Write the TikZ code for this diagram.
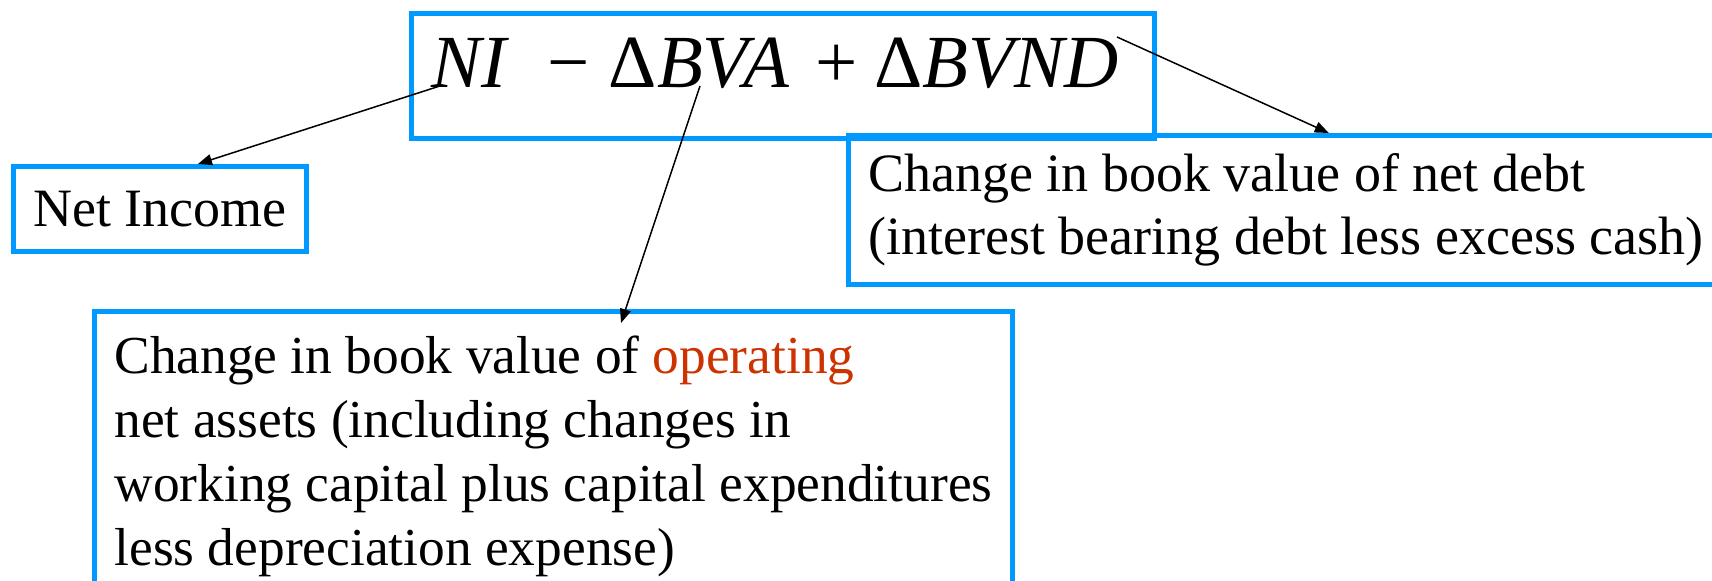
\documentclass[tikz,border=0pt]{standalone}
\usepackage{fontspec}
\setmainfont{Liberation Serif}
\usetikzlibrary{arrows.meta}
\definecolor{boxblue}{RGB}{0,153,255}
\definecolor{hilite}{RGB}{204,51,0}

\begin{document}
\begin{tikzpicture}[
  x=0.5pt, y=-0.5pt,
  box/.style={draw=boxblue, line width=2.5pt, align=left, anchor=north west,
              inner xsep=10pt, font=\fontsize{27}{31.5}\selectfont},
  arr/.style={-{Triangle[length=7pt,width=5.5pt]}, line width=0.75pt}
]
\useasboundingbox (0,0) rectangle (1712,581);
\node[box, minimum width=370.5pt, minimum height=62.5pt, text depth=13.5pt,
      font=\fontsize{37.5}{40}\selectfont] (fml) at (409,11)
  {{\itshape NI}\hspace{0.55em}−\hspace{0.25em}Δ{\itshape BVA}\hspace{0.35em}+\hspace{0.23em}Δ{\itshape BVND}\hspace{8pt}};
\node[box, minimum height=42.5pt] (ni) at (11,164) {Net Income};
\node[box, minimum height=74.5pt] (nd) at (846,133)
  {Change in book value of net debt\\(interest bearing debt less excess cash)};
\node[box, minimum height=144.6pt, font=\fontsize{26.7}{32}\selectfont] (op) at (92,309)
  {Change in book value of \textcolor{hilite}{operating}\\net assets (including changes in\\working capital plus capital expenditures\\less depreciation expense)};

% feet of the arrows, under the letters
\coordinate (niFoot) at (443,85);
\coordinate (bvaFoot) at (700,86);
\coordinate (ndFoot) at (1117,37);

\draw[arr] (niFoot) -- (ni.50);
\draw[arr] (bvaFoot) -- ([shift={(264.5pt,-7pt)}]op.north west);
\draw[arr] (ndFoot) -- (nd.61);
\end{tikzpicture}
\end{document}
